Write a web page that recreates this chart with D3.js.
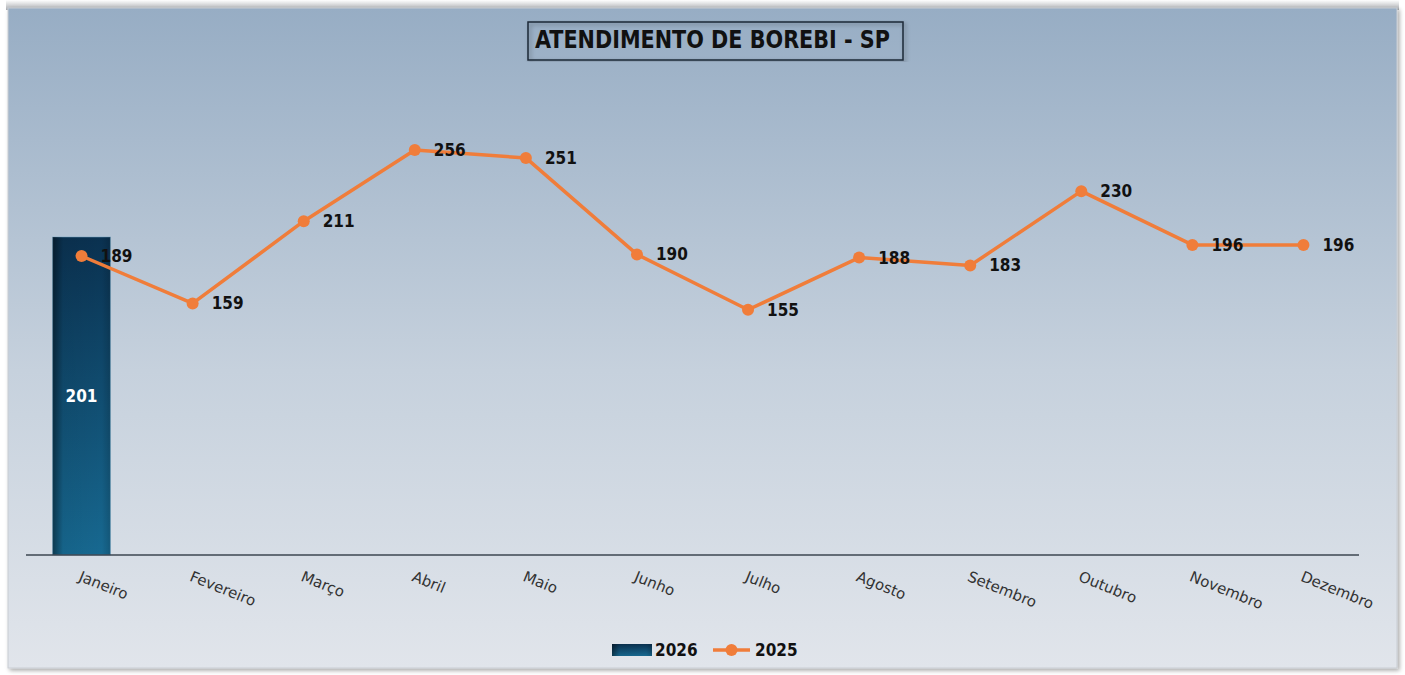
<!DOCTYPE html>
<html>
<head>
<meta charset="utf-8">
<script src="https://cdn.jsdelivr.net/npm/d3@7"></script>
<style>
  body { margin: 0; background: #ffffff; }
</style>
</head>
<body>
<div id="chart-area"></div>
<script>
// data
var months = ["Janeiro", "Fevereiro", "Março", "Abril", "Maio", "Junho",
              "Julho", "Agosto", "Setembro", "Outubro", "Novembro", "Dezembro"];
var values2026 = [201];
var values2025 = [189, 159, 211, 256, 251, 190, 155, 188, 183, 230, 196, 196];
var seriesNames = ["2026", "2025"];
var title = "ATENDIMENTO DE BOREBI - SP";

var W = 1405, H = 675;
var labelFont = "'DejaVu Sans Condensed', 'DejaVu Sans', sans-serif";

var svg = d3.select("#chart-area").append("svg")
    .attr("width", W)
    .attr("height", H);

var defs = svg.append("defs");

var bg = defs.append("linearGradient").attr("id", "bg")
    .attr("x1", 0).attr("y1", 0).attr("x2", 0).attr("y2", 1);
bg.append("stop").attr("offset", "0%").attr("stop-color", "#97adc4");
bg.append("stop").attr("offset", "55%").attr("stop-color", "#c6d1dd");
bg.append("stop").attr("offset", "100%").attr("stop-color", "#e1e5eb");

var topGrad = defs.append("linearGradient").attr("id", "topGrad")
    .attr("x1", 0).attr("y1", 0).attr("x2", 0).attr("y2", 1);
topGrad.append("stop").attr("offset", "0%").attr("stop-color", "#ffffff");
topGrad.append("stop").attr("offset", "100%").attr("stop-color", "#a9acb0");

var barV = defs.append("linearGradient").attr("id", "barV")
    .attr("x1", 0).attr("y1", 0).attr("x2", 0).attr("y2", 1);
barV.append("stop").attr("offset", "0%").attr("stop-color", "#0a3150");
barV.append("stop").attr("offset", "100%").attr("stop-color", "#176991");

var barH = defs.append("linearGradient").attr("id", "barH")
    .attr("x1", 0).attr("y1", 0).attr("x2", 1).attr("y2", 0);
barH.append("stop").attr("offset", "0%").attr("stop-color", "#000").attr("stop-opacity", 0.45);
barH.append("stop").attr("offset", "18%").attr("stop-color", "#000").attr("stop-opacity", 0.05);
barH.append("stop").attr("offset", "85%").attr("stop-color", "#000").attr("stop-opacity", 0);
barH.append("stop").attr("offset", "100%").attr("stop-color", "#000").attr("stop-opacity", 0.15);

var shadow = defs.append("filter").attr("id", "shadow")
    .attr("x", "-5%").attr("y", "-5%").attr("width", "110%").attr("height", "110%");
shadow.append("feDropShadow").attr("dx", 2).attr("dy", 2)
    .attr("stdDeviation", 2).attr("flood-color", "#000").attr("flood-opacity", 0.35);

// panel
svg.append("rect")
    .attr("x", 6).attr("y", 0)
    .attr("width", 1393).attr("height", 10)
    .attr("fill", "url(#topGrad)");
svg.append("rect")
    .attr("x", 8).attr("y", 8)
    .attr("width", 1389).attr("height", 660)
    .attr("fill", "url(#bg)")
    .attr("stroke", "#c8ccd2")
    .attr("filter", "url(#shadow)");

var x = d3.scaleBand()
    .domain(months)
    .range([26, 1359])
    .paddingInner(0.48)
    .paddingOuter(0.24);

var y = d3.scaleLinear()
    .domain([0, 256])
    .range([555, 150]);

var cx = (d) => x(d) + x.bandwidth() / 2;

// title
svg.append("rect")
    .attr("x", 528).attr("y", 22)
    .attr("width", 375).attr("height", 38)
    .attr("fill", "none")
    .attr("stroke", "#1e2a36")
    .attr("stroke-width", 1.5)
    .attr("filter", "url(#shadow)");
svg.append("text")
    .attr("x", 535).attr("y", 48)
    .attr("textLength", 355)
    .attr("lengthAdjust", "spacingAndGlyphs")
    .style("font-family", labelFont)
    .style("font-size", "24px")
    .style("font-weight", "bold")
    .style("fill", "#111")
    .text(title);

// bars
var bars = svg.selectAll(".bar")
    .data(values2026)
    .enter();
bars.append("rect")
    .attr("x", (d, i) => x(months[i]))
    .attr("y", (d) => y(d))
    .attr("width", x.bandwidth())
    .attr("height", (d) => y(0) - y(d))
    .attr("fill", "url(#barV)")
    .attr("stroke", "#6fa6c4")
    .attr("stroke-opacity", 0.5);
bars.append("rect")
    .attr("x", (d, i) => x(months[i]))
    .attr("y", (d) => y(d))
    .attr("width", x.bandwidth())
    .attr("height", (d) => y(0) - y(d))
    .attr("fill", "url(#barH)");
bars.append("text")
    .attr("x", (d, i) => cx(months[i]))
    .attr("y", (d) => (y(d) + y(0)) / 2 + 6)
    .attr("text-anchor", "middle")
    .style("font-family", labelFont)
    .style("font-size", "17px")
    .style("font-weight", "bold")
    .style("fill", "#ffffff")
    .text((d) => d);

// x axis
var xAxisCall = d3.axisBottom(x).tickSize(0).tickPadding(0);
var xAxis = svg.append("g")
    .attr("class", "x axis")
    .attr("transform", "translate(0, " + y(0) + ")")
    .call(xAxisCall);
xAxis.select(".domain")
    .attr("d", "M26,0H1359")
    .attr("stroke", "#3c4650")
    .attr("stroke-width", 1.5);
xAxis.selectAll(".tick text")
    .attr("x", 6)
    .attr("y", 25)
    .attr("dy", 0)
    .attr("text-anchor", "start")
    .attr("transform", "rotate(22)")
    .style("font-family", "'DejaVu Sans', sans-serif")
    .style("font-size", "15px")
    .style("fill", "#333");

// line
var line = d3.line()
    .x((d, i) => cx(months[i]))
    .y((d) => y(d));
svg.append("path")
    .datum(values2025)
    .attr("d", line)
    .attr("fill", "none")
    .attr("stroke", "#f07d3a")
    .attr("stroke-width", 3.5)
    .attr("stroke-linejoin", "round");

svg.selectAll(".dot")
    .data(values2025)
    .enter()
    .append("circle")
        .attr("class", "dot")
        .attr("cx", (d, i) => cx(months[i]))
        .attr("cy", (d) => y(d))
        .attr("r", 6)
        .attr("fill", "#f07d3a");

svg.selectAll(".lbl")
    .data(values2025)
    .enter()
    .append("text")
        .attr("class", "lbl")
        .attr("x", (d, i) => cx(months[i]) + 19)
        .attr("y", (d) => y(d) + 6)
        .style("font-family", labelFont)
        .style("font-size", "17px")
        .style("font-weight", "bold")
        .style("fill", "#111")
        .text((d) => d);

// legend
var lg = svg.append("g").attr("transform", "translate(612, 650)");
lg.append("rect")
    .attr("x", 0).attr("y", -6)
    .attr("width", 40).attr("height", 12)
    .attr("fill", "url(#barV)");
lg.append("rect")
    .attr("x", 0).attr("y", -6)
    .attr("width", 40).attr("height", 12)
    .attr("fill", "url(#barH)");
lg.append("text")
    .attr("x", 43).attr("y", 6)
    .style("font-family", labelFont)
    .style("font-size", "17px")
    .style("font-weight", "bold")
    .style("fill", "#111")
    .text(seriesNames[0]);
lg.append("line")
    .attr("x1", 101).attr("x2", 138)
    .attr("y1", 0).attr("y2", 0)
    .attr("stroke", "#f07d3a")
    .attr("stroke-width", 3.5);
lg.append("circle")
    .attr("cx", 119.5).attr("cy", 0).attr("r", 6)
    .attr("fill", "#f07d3a");
lg.append("text")
    .attr("x", 143).attr("y", 6)
    .style("font-family", labelFont)
    .style("font-size", "17px")
    .style("font-weight", "bold")
    .style("fill", "#111")
    .text(seriesNames[1]);
</script>
</body>
</html>
